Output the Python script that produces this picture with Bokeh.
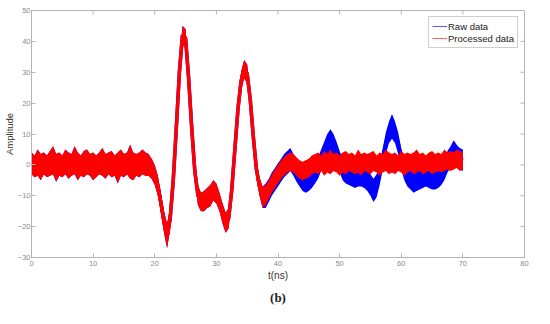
import math
from bokeh.plotting import figure
from bokeh.models import Range1d, Legend, LegendItem, Title, FixedTicker
from bokeh.embed import file_html
from bokeh.resources import INLINE

# sampling grid (ns), 0.5 ns steps
t_ns = [i * 0.5 for i in range(141)]

# Processed data: upper / lower envelope of the noisy trace
proc_upper = [
    4, 3, 5, 3.5, 4, 3, 4.5, 6, 3.5, 4, 3, 5, 4, 3.5, 6, 4, 3, 4.5, 5, 3.5,
    4, 3, 4, 5.5, 3.5, 4, 4.5, 3, 4, 5, 3.5, 4, 6.5, 4, 3.5, 4, 5, 4,
    3.5, 2, 0, -3.5, -9, -15, -19, -14, -2, 15, 33, 45, 44, 31, 15, 1,
    -6.5, -9, -8.5, -7.5, -6.5, -5, -6, -9, -12.5, -15.5, -14, -5, 8, 21, 30, 34,
    32.5, 24, 12, 1.5, -4, -7, -6.5, -5, -3, -1.5, 0, 1.5, 2.5, 3.5, 4, 3.5,
    2.5, 1.5, 1, 1.5, 2, 3,
    3.5, 4, 3, 4.5, 3.5, 5, 3.5, 4, 3, 4, 4.5, 3.5, 4, 3, 5, 3.5, 4, 3.5, 4, 4.5,
    3, 4, 3.5, 5, 4, 3.5, 4, 3, 4.5, 3.5, 4, 3.5, 4, 5, 3.5, 4, 3, 4, 4.5, 3.5,
    4, 3.5, 5, 4, 4.5, 4, 5, 4.5, 4,
]
proc_lower = [
    -3, -4, -3.5, -5, -3, -4, -3.5, -3, -5.5, -3.5, -4, -3, -4.5, -3.5, -3, -5, -3.5, -4, -3, -3.5,
    -5, -4, -3, -3.5, -4.5, -3, -4, -3.5, -6, -3.5, -4, -3, -4.5, -5, -3.5, -4, -3, -3.5,
    -3.5, -4.5, -6.5, -10, -15.5, -22, -27, -21, -8, 9, 27, 39, 38, 25, 9, -5,
    -13, -15, -15, -14, -13.5, -11.5, -12.5, -15, -19, -22, -20.5, -11, 2, 15, 24, 28,
    26.5, 18, 6, -4.5, -10, -14, -13, -11, -9, -7.5, -6, -4.5, -3.5, -2.5, -2, -2.5,
    -3.5, -4.5, -5, -4.5, -4, -3,
    -2.5, -3, -2, -3.5, -2.5, -3, -2, -2.5, -3.5, -2.5, -3, -2, -2.5, -3, -2.5, -3.5, -2, -2.5, -3, -2,
    -2.5, -3.5, -2.5, -2, -3, -2.5, -3, -2, -2.5, -3.5, -2.5, -2, -3, -2.5, -2, -3, -2.5, -2, -3, -2.5,
    -2, -2.5, -2, -1.5, -2, -1.5, -1, -2, -1.5,
]

# Raw data: differs from the processed trace from t = 38 ns on
raw_start_ns = 38
raw_upper_tail = [
    -6, -4.5, -2.5, -1, 0.5, 2, 3.5, 4.5, 5.5, 3.5, 1.5, 0, -1, -1.5, -1.5, -0.5,
    1, 2.5, 5, 7.5, 10, 11.5, 10, 7.5, 4.5, 2, 1, 0.5, 0, 0, 0, 0,
    -0.5, -1.5, -3, -4.5, -3, 0.5, 5.5, 10.5, 14, 16.5, 14, 10.5, 5.5, 2, 0, -1,
    -2, -1.5, -1, -0.5, 0, -0.5, -1, -1, -0.5, 0.5, 2, 4.5, 6, 8, 6.5, 5.5, 5,
]
raw_lower_tail = [
    -14, -12, -10, -8.5, -7, -5.5, -4, -3, -2, -3.5, -5.5, -7, -8.5, -9, -8.5, -7.5,
    -6, -4.5, -2, 0.5, 3, 4, 3, 0.5, -2.5, -5, -6, -6.5, -7, -7.5, -7, -7,
    -7.5, -8.5, -10, -12, -10.5, -6.5, -1.5, 3.5, 7, 8.5, 7, 3.5, -1.5, -5, -7, -8,
    -9, -8.5, -8, -7.5, -7, -7.5, -8, -8, -7.5, -6.5, -5, -2.5, -1, 0, -0.5, -1.5, -2,
]

x_ticks = [0, 10, 20, 30, 40, 50, 60, 70, 80]
y_ticks = [-30, -20, -10, 0, 10, 20, 30, 40, 50]
x_min, x_max = 0, 80
y_min, y_max = -30, 50

# assemble raw series: identical to processed before raw_start_ns
k = t_ns.index(raw_start_ns)
raw_upper = proc_upper[:k] + raw_upper_tail
raw_lower = proc_lower[:k] + raw_lower_tail
proc_mid = [(a + b) / 2 for a, b in zip(proc_upper, proc_lower)]
raw_mid = [(a + b) / 2 for a, b in zip(raw_upper, raw_lower)]

GRAY = "#b4b4b4"
TICK_TXT = "#8a8a8a"
BLUE = "#0000ff"
RED = "#ff0000"

p = figure(width=534, height=308, output_backend="svg", toolbar_location=None,
           x_range=Range1d(x_min, x_max), y_range=Range1d(y_min, y_max),
           min_border_left=25, min_border_right=10, min_border_top=10, min_border_bottom=0)
p.xgrid.visible = False
p.ygrid.visible = False
p.outline_line_color = GRAY
p.background_fill_color = "white"
p.border_fill_color = "white"

# legend proxy lines (thin) are drawn first so the bands cover them
lb = p.line(t_ns, raw_mid, line_color="#5c5cff", line_width=1)
p.varea(x=t_ns, y1=raw_lower, y2=raw_upper, fill_color=BLUE)
p.line(t_ns, raw_mid, line_color=BLUE, line_width=3.5)
lr = p.line(t_ns, proc_mid, line_color="#ff6464", line_width=1)
p.varea(x=t_ns, y1=proc_lower, y2=proc_upper, fill_color=RED)
p.line(t_ns, proc_mid, line_color=RED, line_width=3.5)

# inward ticks on the right and top edges of the box (half of each dash is clipped by the frame)
p.scatter(x=[x_max] * len(y_ticks), y=y_ticks, marker="dash", size=8, line_color=GRAY, line_width=1)
p.scatter(x=x_ticks, y=[y_max] * len(x_ticks), marker="dash", size=8, angle=math.pi / 2,
          line_color=GRAY, line_width=1)

p.xaxis.ticker = FixedTicker(ticks=x_ticks)
p.yaxis.ticker = FixedTicker(ticks=y_ticks)
p.xaxis.axis_label = "t(ns)"
p.yaxis.axis_label = "Amplitude"
for ax in p.xaxis + p.yaxis:
    ax.axis_line_color = GRAY
    ax.major_tick_line_color = GRAY
    ax.major_tick_in = 4
    ax.major_tick_out = 0
    ax.minor_tick_line_color = None
    ax.major_label_text_font = "Liberation Sans"
    ax.major_label_text_font_size = "7.5px"
    ax.major_label_text_color = TICK_TXT
    ax.axis_label_text_font = "Liberation Sans"
    ax.axis_label_text_font_size = "10px"
    ax.axis_label_text_font_style = "normal"
    ax.axis_label_text_color = "#333333"
p.yaxis.major_label_standoff = 1
p.yaxis.axis_label_standoff = 0
p.yaxis.axis_label_text_font_size = "9.5px"
p.xaxis.major_label_standoff = 3
p.xaxis.axis_label_standoff = 1

legend = Legend(items=[LegendItem(label="Raw data", renderers=[lb]),
                       LegendItem(label="Processed data", renderers=[lr])],
                location="top_right")
legend.label_text_font = "Liberation Sans"
legend.label_text_font_size = "9.5px"
legend.label_text_color = "#222222"
legend.glyph_width = 15
legend.glyph_height = 12
legend.label_height = 12
legend.label_standoff = 1
legend.spacing = 0
legend.padding = 3
legend.margin = 6
legend.border_line_color = "#a0a0a0"
legend.background_fill_alpha = 1
p.add_layout(legend, "center")

cap = Title(text="(b)", align="center", offset=-11, text_font="Liberation Serif",
            text_font_style="bold", text_font_size="13px", text_color="#222222", standoff=8)
p.add_layout(cap, "below")

open("out.html", "w").write(file_html(p, INLINE))
